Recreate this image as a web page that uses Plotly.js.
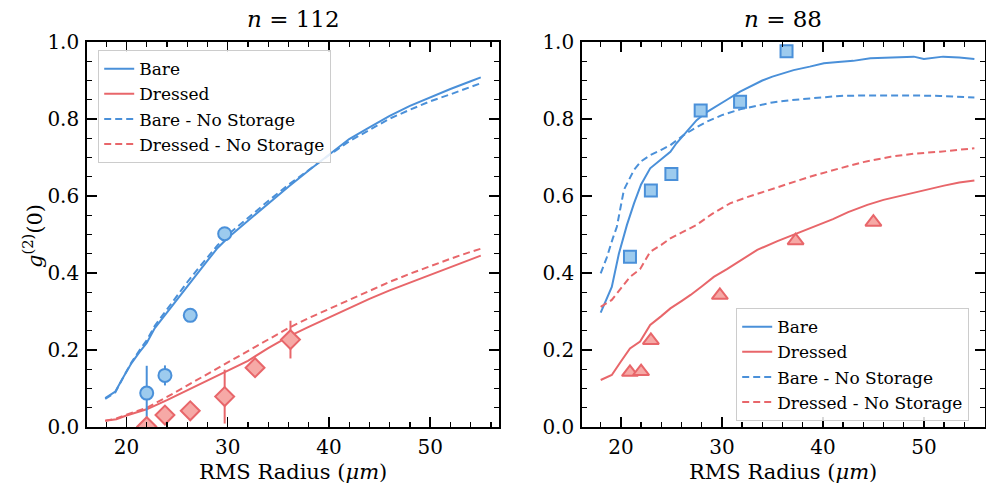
<!DOCTYPE html>
<html>
<head>
<meta charset="utf-8">
<script src="https://cdn.plot.ly/plotly-3.0.1.min.js"></script>
<style>html,body{margin:0;padding:0;background:#fff;}#chart{width:986px;height:492px;}</style>
</head>
<body>
<div id="chart"></div>
<script>
// ---------- Data: left panel (n = 112) ----------
const leftBareX = [17.9, 18.9, 19.7, 20.5, 21.3, 22.0, 22.8, 24, 25, 26, 27, 28, 29, 30, 32, 34, 36, 38, 40, 42, 44, 46, 48, 50, 52, 54, 55];
const leftBareY = [0.075, 0.092, 0.13, 0.166, 0.195, 0.218, 0.257, 0.298, 0.332, 0.366, 0.40, 0.432, 0.465, 0.491, 0.536, 0.581, 0.624, 0.666, 0.707, 0.748, 0.778, 0.808, 0.834, 0.857, 0.878, 0.898, 0.908];
const leftBareNSY = [0.073, 0.09, 0.13, 0.168, 0.2, 0.225, 0.263, 0.306, 0.341, 0.376, 0.409, 0.441, 0.472, 0.499, 0.544, 0.587, 0.629, 0.668, 0.706, 0.742, 0.772, 0.801, 0.824, 0.846, 0.864, 0.882, 0.893];
const leftDressedX = [17.9, 19, 20, 21, 22, 24, 26, 28, 30, 32, 34, 36, 38, 40, 42, 44, 46, 48, 50, 52, 54, 55];
const leftDressedY = [0.016, 0.02, 0.03, 0.038, 0.046, 0.07, 0.095, 0.12, 0.146, 0.172, 0.205, 0.235, 0.26, 0.285, 0.31, 0.333, 0.355, 0.375, 0.393, 0.413, 0.435, 0.445];
const leftDressedNSY = [0.016, 0.022, 0.032, 0.041, 0.05, 0.078, 0.108, 0.138, 0.168, 0.197, 0.227, 0.257, 0.283, 0.307, 0.33, 0.355, 0.377, 0.398, 0.418, 0.437, 0.455, 0.463];
const leftCircX = [22.0, 23.8, 26.3, 29.7];
const leftCircY = [0.088, 0.134, 0.29, 0.502];
const leftCircErr = [0.071, 0.026, 0, 0];
const leftDiamX = [22.0, 23.8, 26.3, 29.7, 32.7, 36.2];
const leftDiamY = [0.001, 0.031, 0.042, 0.079, 0.154, 0.227];
const leftDiamErr = [0, 0, 0, 0.07, 0, 0.049];

// ---------- Data: right panel (n = 88) ----------
const rightBareX = [18.0, 19.1, 19.8, 20.6, 21.3, 22.0, 22.9, 24.0, 24.9, 25.5, 26.5, 27.5, 28.5, 29.5, 30.5, 31.8, 33, 34, 35, 37.1, 38.7, 40.1, 41.5, 43.0, 44.7, 46, 47.5, 49.0, 50.0, 51.0, 51.9, 53.5, 55.0];
const rightBareY = [0.297, 0.364, 0.45, 0.525, 0.581, 0.63, 0.672, 0.695, 0.715, 0.737, 0.768, 0.797, 0.818, 0.835, 0.85, 0.871, 0.888, 0.9, 0.91, 0.927, 0.936, 0.945, 0.948, 0.951, 0.958, 0.959, 0.96, 0.962, 0.956, 0.959, 0.962, 0.96, 0.956];
const rightBareNSX = [18.0, 18.6, 19.2, 19.6, 20.3, 21.3, 22.0, 22.9, 24.0, 24.9, 26.2, 27.3, 28.5, 30, 31.8, 33.5, 35, 36.8, 38.7, 41.7, 44, 46.7, 49, 51.6, 55.0];
const rightBareNSY = [0.399, 0.44, 0.49, 0.52, 0.616, 0.668, 0.69, 0.706, 0.72, 0.732, 0.758, 0.776, 0.793, 0.81, 0.825, 0.835, 0.843, 0.849, 0.854, 0.86, 0.861, 0.862, 0.861, 0.86, 0.856];
const rightDressedX = [18.0, 19.1, 20.0, 20.9, 21.9, 22.9, 24.0, 24.9, 26.0, 26.9, 28.0, 29.2, 30.5, 32.0, 33.5, 35.5, 37.4, 39.4, 41.0, 42.5, 44.4, 46, 48, 50.0, 52, 53.5, 55.0];
const rightDressedY = [0.122, 0.135, 0.17, 0.204, 0.222, 0.265, 0.288, 0.308, 0.327, 0.343, 0.365, 0.39, 0.41, 0.435, 0.46, 0.483, 0.503, 0.525, 0.54, 0.558, 0.577, 0.59, 0.603, 0.616, 0.627, 0.635, 0.64];
const rightDressedNSX = [18.0, 19.1, 20.0, 20.9, 21.9, 22.9, 24.0, 24.9, 26.0, 27.5, 29, 30.8, 32.5, 34.1, 36.8, 38.7, 41.7, 44, 46.7, 49, 51.6, 53.5, 55.0];
const rightDressedNSY = [0.312, 0.33, 0.36, 0.39, 0.41, 0.455, 0.473, 0.49, 0.505, 0.525, 0.553, 0.581, 0.597, 0.611, 0.633, 0.65, 0.672, 0.688, 0.702, 0.71, 0.715, 0.72, 0.724];
const rightSqX = [20.9, 22.97, 25.0, 27.9, 31.8, 36.4];
const rightSqY = [0.442, 0.614, 0.657, 0.822, 0.845, 0.976];
const rightTriX = [20.9, 22.0, 22.97, 29.8, 37.3, 45.0];
const rightTriY = [0.142, 0.144, 0.225, 0.342, 0.484, 0.532];

const titles = ["<i>n</i> = 112", "<i>n</i> = 88"];
const seriesNames = ["Bare", "Dressed", "Bare - No Storage", "Dressed - No Storage"];
const xTitle = "RMS Radius (<i>μm</i>)";
const yTitle = "<i>g</i><sup>(2)</sup>(0)";

// ---------- Styles ----------
const FONT = "DejaVu Serif";
const BLUE = "#4A90D9", RED = "#E8666A";
const BLUE_FILL = "#9DCBEE", RED_FILL = "#F6A9A6";
const DASH = "7px,4px";

function line(x, y, color, dash, name, xa, ya, legend, show) {
  return {type: "scatter", mode: "lines", x: x, y: y, name: name,
    line: {color: color, width: 2, dash: dash}, xaxis: xa, yaxis: ya,
    legend: legend, showlegend: show, hoverinfo: "skip"};
}
function pts(x, y, err, symbol, size, fill, edge, xa, ya) {
  const t = {type: "scatter", mode: "markers", x: x, y: y, xaxis: xa, yaxis: ya,
    marker: {symbol: symbol, size: size, color: fill, line: {color: edge, width: 2}},
    showlegend: false, hoverinfo: "skip"};
  if (err) t.error_y = {type: "data", array: err, visible: true, color: edge, thickness: 2, width: 0};
  return t;
}

const data = [
  line(leftBareX, leftBareY, BLUE, "solid", seriesNames[0], "x", "y", "legend", true),
  line(leftDressedX, leftDressedY, RED, "solid", seriesNames[1], "x", "y", "legend", true),
  line(leftBareX, leftBareNSY, BLUE, DASH, seriesNames[2], "x", "y", "legend", true),
  line(leftDressedX, leftDressedNSY, RED, DASH, seriesNames[3], "x", "y", "legend", true),
  pts(leftCircX, leftCircY, leftCircErr, "circle", 13, BLUE_FILL, BLUE, "x", "y"),
  pts(leftDiamX, leftDiamY, leftDiamErr, "diamond", 14.5, RED_FILL, RED, "x", "y"),
  line(rightBareX, rightBareY, BLUE, "solid", seriesNames[0], "x2", "y2", "legend2", true),
  line(rightDressedX, rightDressedY, RED, "solid", seriesNames[1], "x2", "y2", "legend2", true),
  line(rightBareNSX, rightBareNSY, BLUE, DASH, seriesNames[2], "x2", "y2", "legend2", true),
  line(rightDressedNSX, rightDressedNSY, RED, DASH, seriesNames[3], "x2", "y2", "legend2", true),
  pts(rightSqX, rightSqY, null, "square", 12, BLUE_FILL, BLUE, "x2", "y2"),
  pts(rightTriX, rightTriY, null, "triangle-up", 14, RED_FILL, RED, "x2", "y2")
];

const W = 986, H = 492;
const yDom = [1 - 427 / H, 1 - 42 / H];
function xax(domain, range, anchor) {
  return {domain: domain, range: range, anchor: anchor, tickmode: "linear", tick0: 0, dtick: 10,
    ticks: "inside", ticklen: 10, tickwidth: 1.5, tickcolor: "#000", mirror: "allticks",
    showline: true, linecolor: "#000", linewidth: 1.8, showgrid: false, zeroline: false,
    tickfont: {family: FONT, size: 20, color: "#000"}, ticklabelstandoff: 1,
    minor: {dtick: 2, tick0: 0, ticks: "inside", ticklen: 5, tickwidth: 1.2, tickcolor: "#000", showgrid: false}};
}
function yax(domain, anchor) {
  return {domain: domain, range: [0, 1], anchor: anchor, tickmode: "linear", tick0: 0, dtick: 0.2,
    tickformat: ".1f", ticks: "inside", ticklen: 10, tickwidth: 1.5, tickcolor: "#000", mirror: "allticks",
    showline: true, linecolor: "#000", linewidth: 1.8, showgrid: false, zeroline: false,
    tickfont: {family: FONT, size: 20, color: "#000"}, ticklabelstandoff: 2,
    minor: {dtick: 0.05, tick0: 0, ticks: "inside", ticklen: 5, tickwidth: 1.2, tickcolor: "#000", showgrid: false}};
}
const legendStyle = {font: {family: FONT, size: 17, color: "#000"}, bgcolor: "rgba(255,255,255,0.85)",
  bordercolor: "#cccccc", borderwidth: 1.2, xanchor: "left", yanchor: "top", tracegroupgap: 0, itemwidth: 30};

function ann(text, xpx, ypx, size, angle) {
  return {text: text, x: xpx / W, y: 1 - ypx / H, xref: "paper", yref: "paper", xanchor: "center", yanchor: "middle",
    showarrow: false, textangle: angle || 0, font: {family: FONT, size: size, color: "#000"}};
}

const layout = {
  width: W, height: H, margin: {l: 0, r: 0, t: 0, b: 0},
  paper_bgcolor: "#fff", plot_bgcolor: "#fff",
  font: {family: FONT, color: "#000"},
  xaxis: xax([87 / W, 499 / W], [16.1, 56.8], "y"),
  yaxis: yax(yDom, "x"),
  xaxis2: xax([582 / W, 985 / W], [16.15, 56.05], "y2"),
  yaxis2: yax(yDom, "x2"),
  legend: Object.assign({x: 98 / W, y: 1 - 50 / H}, legendStyle),
  legend2: Object.assign({x: 736 / W, y: 1 - 308 / H}, legendStyle),
  annotations: [
    ann(titles[0], 293, 19, 23),
    ann(titles[1], 783, 19, 23),
    ann(xTitle, 293, 472, 21),
    ann(xTitle, 783, 472, 21),
    ann(yTitle, 33, 236, 21, -90)
  ]
};

Plotly.newPlot("chart", data, layout, {staticPlot: true, displayModeBar: false});
</script>
</body>
</html>
